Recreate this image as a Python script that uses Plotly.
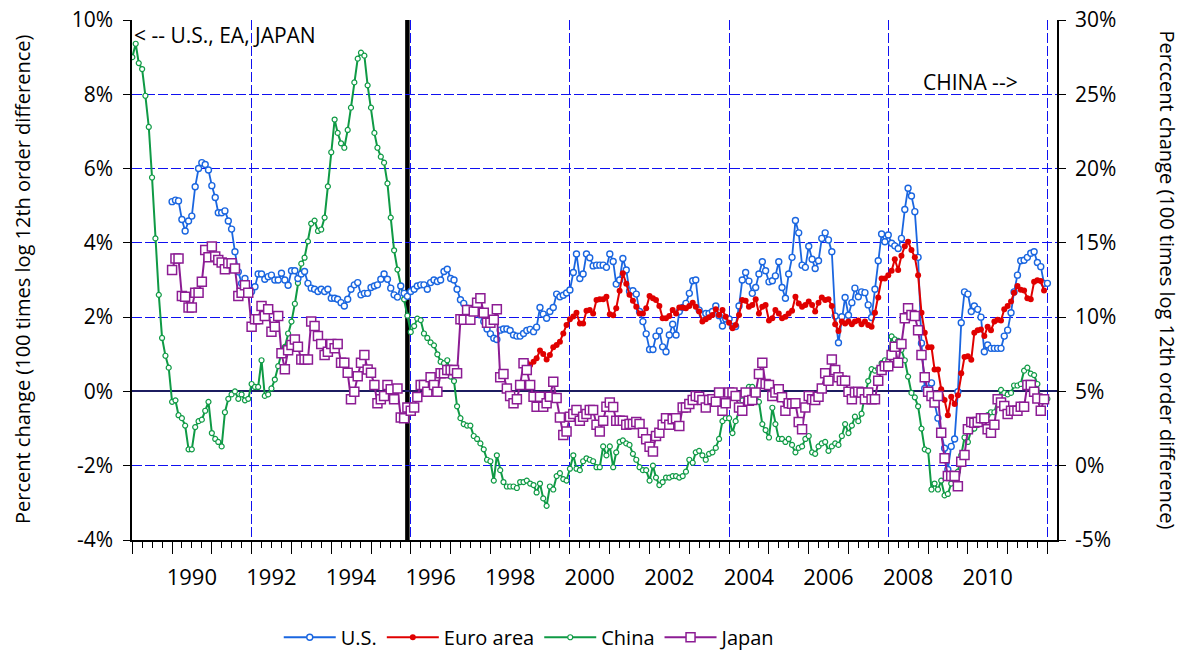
import pandas as pd
import plotly.graph_objects as go

# 100 x log 12th order difference of CPI, monthly
china_start = "1989-01-01"
china = [
    27.5, 28.4, 27.1, 26.7, 24.9, 22.8, 19.4, 15.3, 11.5, 8.6, 7.4, 6.6,      # 1989
    4.3, 4.4, 3.4, 3.2, 2.7, 1.1, 1.1, 2.6, 3.0, 3.1, 3.7, 4.3,               # 1990
    2.2, 1.8, 1.6, 1.3, 3.6, 4.5, 4.8, 5.0, 4.5, 4.8, 4.4, 4.5,               # 1991
    5.5, 5.3, 5.3, 7.1, 4.7, 4.8, 5.2, 5.8, 6.7, 7.6, 8.0, 8.9,               # 1992
    9.7, 10.9, 12.3, 13.6, 14.0, 15.1, 16.3, 16.5, 15.8, 15.9, 16.7, 18.8,    # 1993
    21.1, 23.3, 22.4, 21.7, 21.4, 22.6, 24.1, 25.8, 27.4, 27.8, 27.6, 25.6,   # 1994
    24.1, 22.4, 21.4, 20.8, 20.4, 19.0, 16.7, 14.5, 13.2, 12.1, 11.2, 10.1,   # 1995
    9.0, 9.4, 9.9, 9.8, 8.9, 8.6, 8.3, 8.1, 7.5, 7.0, 6.9, 7.1,               # 1996
    6.0, 5.7, 4.0, 3.2, 2.8, 2.7, 2.7, 2.0, 1.8, 1.5, 1.1, 0.4,               # 1997
    0.3, -1.0, 0.7, -0.3, -1.1, -1.4, -1.4, -1.4, -1.5, -1.1, -1.1, -1.0,     # 1998
    -1.2, -1.3, -1.8, -1.2, -2.2, -2.7, -1.4, -1.6, -0.7, -0.5, -0.9, -1.0,   # 1999
    -0.2, 0.7, -0.2, -0.3, 0.3, 0.5, 0.4, 0.3, -0.1, -0.1, 1.3, 0.7,          # 2000
    1.3, -0.1, 0.9, 1.6, 1.7, 1.5, 1.4, 0.8, 0.4, -0.1, -0.3, -0.3,           # 2001
    -1.0, 0.0, -0.8, -1.3, -1.1, -0.8, -0.8, -0.7, -0.7, -0.8, -0.7, -0.4,    # 2002
    0.4, 0.2, 0.9, 1.0, 0.7, 0.4, 0.8, 0.9, 1.2, 1.8, 3.0, 3.2,               # 2003
    3.2, 2.2, 3.0, 3.7, 4.4, 5.0, 5.3, 5.3, 4.8, 4.3, 2.8, 2.4,               # 2004
    1.9, 3.9, 2.8, 1.8, 1.8, 1.6, 1.8, 1.4, 0.9, 1.2, 1.3, 1.8,               # 2005
    2.0, 0.9, 0.8, 1.3, 1.5, 1.6, 1.0, 1.3, 1.5, 1.4, 2.0, 2.8,               # 2006
    2.2, 2.7, 3.3, 3.0, 3.5, 4.8, 5.7, 6.5, 6.4, 6.5, 6.9, 7.1,               # 2007
    7.1, 8.7, 8.5, 8.4, 7.8, 7.1, 6.0, 4.9, 4.6, 4.0, 2.5, 1.1,               # 2008
    1.0, -1.6, -1.2, -1.6, -1.0, -2.0, -1.9, -1.2, -0.9, -0.4, 0.7, 1.9,      # 2009
    1.6, 2.4, 2.5, 3.0, 3.2, 3.3, 3.4, 3.6, 3.6, 4.4, 5.1, 4.9,               # 2010
    4.8, 4.9, 5.4, 5.4, 5.5, 6.4, 6.6, 6.2, 6.1, 5.5, 4.4, 4.4,               # 2011
    4.5,                                                                      # 2012
]

us_start = "1990-01-01"
us = [
    5.11, 5.15, 5.13, 4.63, 4.32, 4.59, 4.72, 5.51, 6.00, 6.16, 6.11, 5.96,   # 1990
    5.54, 5.22, 4.81, 4.81, 4.86, 4.59, 4.37, 3.76, 3.22, 2.91, 3.04, 2.73,   # 1991
    2.69, 2.82, 3.16, 3.16, 3.02, 3.09, 3.13, 3.00, 3.00, 3.18, 3.00, 2.86,   # 1992
    3.25, 3.25, 3.04, 3.16, 3.23, 2.91, 2.78, 2.75, 2.69, 2.75, 2.69, 2.75,   # 1993
    2.51, 2.51, 2.48, 2.39, 2.30, 2.48, 2.75, 2.87, 2.93, 2.60, 2.64, 2.64,   # 1994
    2.80, 2.84, 2.87, 3.02, 3.16, 3.02, 2.78, 2.60, 2.54, 2.84, 2.64, 2.56,   # 1995
    2.69, 2.75, 2.84, 2.87, 2.87, 2.75, 2.93, 3.00, 2.96, 3.00, 3.23, 3.29,   # 1996
    3.04, 3.00, 2.75, 2.47, 2.37, 2.24, 2.15, 2.15, 2.19, 2.06, 1.88, 1.68,   # 1997
    1.55, 1.43, 1.40, 1.65, 1.68, 1.68, 1.64, 1.52, 1.49, 1.49, 1.56, 1.64,   # 1998
    1.67, 1.61, 1.73, 2.26, 2.08, 1.97, 2.15, 2.26, 2.62, 2.55, 2.59, 2.65,   # 1999
    2.73, 3.20, 3.70, 3.04, 3.16, 3.70, 3.60, 3.38, 3.40, 3.40, 3.40, 3.34,   # 2000
    3.70, 3.50, 2.89, 3.00, 3.58, 3.27, 2.70, 2.71, 2.62, 2.15, 1.88, 1.55,   # 2001
    1.13, 1.13, 1.49, 1.63, 1.20, 1.07, 1.52, 1.81, 1.52, 2.15, 2.26, 2.37,   # 2002
    2.64, 2.98, 3.00, 2.19, 2.06, 2.10, 2.10, 2.15, 2.30, 2.04, 1.76, 1.95,   # 2003
    1.95, 1.75, 1.75, 2.30, 3.00, 3.20, 2.97, 2.64, 2.80, 3.16, 3.49, 3.25,   # 2004
    2.95, 2.98, 3.11, 3.49, 2.80, 2.51, 3.16, 3.61, 4.60, 4.27, 3.40, 3.34,   # 2005
    3.91, 3.56, 3.31, 3.52, 4.12, 4.27, 4.08, 3.76, 2.03, 1.31, 2.01, 2.53,   # 2006
    2.05, 2.39, 2.78, 2.55, 2.68, 2.66, 2.33, 1.99, 2.75, 3.52, 4.24, 4.03,   # 2007
    4.21, 3.99, 3.92, 3.85, 4.12, 4.90, 5.47, 5.26, 4.84, 3.61, 1.30, 0.08,   # 2008
    0.23, 0.23, -0.32, -0.72, -1.13, -1.53, -2.10, -1.48, -1.28, -0.01, 1.85, 2.68,  # 2009
    2.62, 2.15, 2.30, 2.21, 2.00, 1.07, 1.25, 1.16, 1.16, 1.16, 1.16, 1.49,   # 2010
    1.65, 2.12, 2.68, 3.13, 3.52, 3.53, 3.61, 3.72, 3.76, 3.47, 3.36, 2.91,   # 2011
    2.91,                                                                     # 2012
]

euro_start = "1998-11-01"
euro = [
    0.72, 0.77,                                                               # 1998
    0.71, 0.80, 0.89, 1.10, 1.01, 0.86, 0.98, 1.19, 1.25, 1.34, 1.56, 1.79,   # 1999
    1.94, 2.02, 2.12, 1.83, 1.83, 2.17, 2.19, 2.10, 2.46, 2.48, 2.48, 2.55,   # 2000
    2.08, 2.05, 2.24, 2.71, 3.18, 2.90, 2.60, 2.44, 2.28, 2.10, 2.10, 2.24,   # 2001
    2.57, 2.51, 2.46, 2.30, 1.97, 1.97, 2.03, 2.19, 2.10, 2.26, 2.26, 2.24,   # 2002
    2.30, 2.39, 2.28, 2.15, 1.88, 1.94, 2.00, 2.06, 2.21, 2.06, 2.19, 2.01,   # 2003
    1.85, 1.70, 1.79, 2.06, 2.46, 2.44, 2.28, 2.33, 2.48, 2.10, 2.28, 2.33,   # 2004
    1.91, 1.97, 2.19, 2.10, 1.97, 2.01, 2.10, 2.17, 2.55, 2.37, 2.28, 2.33,   # 2005
    2.42, 2.33, 2.15, 2.39, 2.53, 2.46, 2.48, 2.30, 1.81, 1.63, 1.88, 1.83,   # 2006
    1.88, 1.81, 1.88, 1.91, 1.81, 1.88, 1.79, 1.74, 2.12, 2.53, 3.04, 3.04,   # 2007
    3.13, 3.25, 3.56, 3.27, 3.65, 3.91, 4.03, 3.81, 3.61, 3.13, 2.12, 1.58,   # 2008
    1.19, 1.19, 0.59, 0.59, 0.06, -0.23, -0.64, -0.14, -0.34, -0.10, 0.49, 0.93,  # 2009
    0.95, 0.85, 1.58, 1.65, 1.67, 1.49, 1.74, 1.65, 1.88, 1.93, 1.91, 2.21,   # 2010
    2.30, 2.42, 2.66, 2.84, 2.74, 2.72, 2.51, 2.48, 2.95, 2.99, 2.97, 2.72,   # 2011
]

japan_start = "1990-01-01"
japan = [
    3.27, 3.58, 3.58, 2.57, 2.55, 2.26, 2.26, 2.66, 2.66, 2.95, 3.81, 3.61,   # 1990
    3.90, 3.63, 3.54, 3.47, 3.29, 3.45, 3.45, 3.31, 2.57, 2.66, 2.86, 2.66,   # 1991
    1.74, 1.94, 1.94, 2.30, 2.03, 2.21, 1.61, 1.74, 2.03, 1.03, 0.60, 1.11,   # 1992
    1.25, 1.40, 1.20, 0.86, 0.86, 0.86, 1.88, 1.76, 1.49, 1.28, 0.98, 1.07,   # 1993
    1.28, 1.16, 1.28, 0.77, 0.77, 0.50, -0.21, -0.01, 0.41, 0.77, 0.98, 0.59,  # 1994
    0.50, 0.17, -0.32, -0.21, -0.12, 0.17, 0.06, -0.21, 0.08, -0.70, -0.72, -0.43,  # 1995
    -0.52, -0.43, -0.15, 0.17, 0.17, -0.01, 0.38, 0.17, -0.01, 0.49, 0.49, 0.58,  # 1996
    0.58, 0.58, 0.49, 1.94, 1.93, 2.19, 1.93, 2.15, 2.39, 2.51, 2.12, 1.85,   # 1997
    1.85, 1.93, 2.21, 0.38, 0.47, 0.08, -0.12, -0.32, -0.21, 0.17, 0.76, 0.58,  # 1998
    0.17, -0.14, -0.41, -0.14, -0.41, -0.32, -0.14, 0.26, -0.18, -0.70, -1.17, -1.08,  # 1999
    -0.68, -0.61, -0.50, -0.79, -0.68, -0.61, -0.50, -0.50, -0.90, -1.08, -0.79, -0.41,  # 2000
    -0.30, -0.42, -0.79, -0.79, -0.79, -0.90, -0.88, -0.88, -0.82, -0.88, -1.11, -1.29,  # 2001
    -1.49, -1.62, -1.20, -1.11, -0.90, -0.72, -0.90, -0.75, -0.72, -0.93, -0.43, -0.43,  # 2002
    -0.34, -0.23, -0.12, -0.14, -0.23, -0.43, -0.23, -0.21, -0.28, -0.03, -0.52, -0.32,  # 2003
    -0.03, -0.03, -0.12, -0.43, -0.52, -0.03, -0.25, -0.23, -0.03, 0.47, 0.77, 0.20,  # 2004
    0.17, -0.12, -0.03, 0.06, -0.16, -0.52, -0.32, -0.33, -0.32, -0.82, -1.02, -0.43,  # 2005
    -0.12, -0.21, -0.23, -0.14, 0.08, 0.49, 0.29, 0.86, 0.58, 0.38, 0.29, 0.29,  # 2006
    -0.01, -0.21, -0.03, -0.01, -0.03, -0.21, -0.03, -0.21, -0.21, 0.29, 0.58, 0.68,  # 2007
    0.68, 0.98, 1.20, 0.77, 1.28, 1.97, 2.24, 2.06, 2.03, 1.65, 0.98, 0.38,   # 2008
    -0.01, -0.12, -0.30, -0.12, -1.11, -1.80, -2.28, -2.28, -2.28, -2.55, -1.89, -1.71,  # 2009
    -1.02, -0.82, -0.84, -0.82, -0.72, -0.72, -1.02, -1.11, -0.90, -0.21, -0.30, -0.39,  # 2010
    -0.61, -0.52, -0.52, -0.52, -0.41, -0.41, 0.17, 0.17, -0.01, -0.19, -0.52, -0.21,  # 2011
]

left_ticks = [-4, -2, 0, 2, 4, 6, 8, 10]
left_grid = [-2, 2, 4, 6, 8]
right_ticks = [-5, 0, 5, 10, 15, 20, 25, 30]
year_labels = list(range(1990, 2011, 2))
break_date = "1995-12-01"
x_range = ["1988-12-29", "2012-03-29"]

FONT = "Open Sans"
GRID_BLUE = "#1010f0"


def months(start, values):
    return pd.date_range(start, periods=len(values), freq="MS")


fig = go.Figure()

fig.add_trace(go.Scatter(
    x=months(us_start, us), y=us, name="U.S.", yaxis="y2",
    mode="lines+markers",
    line=dict(color="#1a66e0", width=1.8),
    marker=dict(symbol="circle", size=6, color="white",
                line=dict(color="#1a66e0", width=1.4)),
))
fig.add_trace(go.Scatter(
    x=months(euro_start, euro), y=euro, name="Euro area", yaxis="y2",
    mode="lines+markers",
    line=dict(color="#e00000", width=2),
    marker=dict(symbol="circle", size=6, color="#e00000"),
))
fig.add_trace(go.Scatter(
    x=months(china_start, china), y=china, name="China", yaxis="y",
    mode="lines+markers",
    line=dict(color="#0f9a45", width=2),
    marker=dict(symbol="circle", size=5, color="white",
                line=dict(color="#0f9a45", width=1.2)),
))
fig.add_trace(go.Scatter(
    x=months(japan_start, japan), y=japan, name="Japan", yaxis="y2",
    mode="lines+markers",
    line=dict(color="#8c1c94", width=2),
    marker=dict(symbol="square", size=9, color="white",
                line=dict(color="#8c1c94", width=1.5)),
))

# empty helper traces so the label / grid overlay axes get drawn
for xa, ya in [("x2", "y"), ("x3", "y"), ("x", "y3")]:
    fig.add_trace(go.Scatter(x=x_range, y=[None, None], xaxis=xa, yaxis=ya,
                             mode="lines", showlegend=False, hoverinfo="skip"))

# thick marker line at end-1995
fig.add_shape(type="line", xref="x", yref="paper", x0=break_date, x1=break_date,
              y0=0, y1=1, line=dict(color="black", width=4.5), layer="between")

fig.add_annotation(text="< -- U.S., EA, JAPAN", xref="paper", yref="paper",
                   x=0.0, y=0.971, xanchor="left", yanchor="middle",
                   showarrow=False, font=dict(size=21))
fig.add_annotation(text="CHINA -->", xref="paper", yref="paper",
                   x=0.906, y=0.881, xanchor="center", yanchor="middle",
                   showarrow=False, font=dict(size=21))
fig.add_annotation(text="Percent change (100 times log 12th order difference)",
                   xref="paper", yref="paper", x=-0.1189, y=0.5, textangle=-90,
                   xanchor="center", yanchor="middle", showarrow=False,
                   font=dict(size=20))
fig.add_annotation(text="Perccent change (100 times log 12th order difference)",
                   xref="paper", yref="paper", x=1.1195, y=0.5, textangle=90,
                   xanchor="center", yanchor="middle", showarrow=False,
                   font=dict(size=20))

# the page body adds an 8px offset, so the figure is 8px smaller each way
fig.update_layout(
    width=1178, height=644,
    margin=dict(l=124, r=129, t=12, b=112, autoexpand=False),
    paper_bgcolor="white", plot_bgcolor="white",
    font=dict(family=FONT, size=20, color="black"),
    legend=dict(orientation="h", x=0.43, xanchor="center", y=-0.187,
                yanchor="middle", font=dict(size=20), itemwidth=52,
                bgcolor="rgba(0,0,0,0)"),
    # main date axis: yearly and quarterly ticks
    xaxis=dict(
        type="date", range=x_range, showgrid=False, zeroline=False,
        showline=True, linecolor="black", linewidth=1.5, automargin=False,
        ticks="outside", tick0="1989-01-01", dtick="M12", ticklen=12,
        tickwidth=1.3, tickcolor="black", showticklabels=False,
        minor=dict(ticks="outside", tick0="1989-01-01", dtick="M3",
                   ticklen=6, tickwidth=1, tickcolor="black", showgrid=False),
    ),
    # year labels centred in the year
    xaxis2=dict(
        type="date", overlaying="x", anchor="y", side="bottom", range=x_range,
        tickmode="array", tickvals=[f"{y}-07-01" for y in year_labels],
        ticktext=[str(y) for y in year_labels], ticks="outside", ticklen=18,
        tickcolor="rgba(0,0,0,0)", showline=False, showgrid=False,
        zeroline=False, tickfont=dict(size=22), automargin=False,
    ),
    # vertical dashed grid every four years
    xaxis3=dict(
        type="date", overlaying="x", anchor="y", range=x_range,
        tick0="1992-01-01", dtick="M48", showgrid=True, gridcolor=GRID_BLUE,
        gridwidth=1, griddash="10px,3px", ticks="", showticklabels=False,
        showline=False, zeroline=False, automargin=False,
    ),
    # right axis (China)
    yaxis=dict(
        side="right", range=[-5, 30], tickmode="array", tickvals=right_ticks,
        ticktext=[f"{v}%" for v in right_ticks], showgrid=False, zeroline=False,
        showline=True, linecolor="black", linewidth=1.5, ticks="outside",
        ticklen=7, tickwidth=1.3, tickcolor="black", tickfont=dict(size=21),
        ticklabelstandoff=5, ticklabeloverflow="allow", automargin=False,
    ),
    # left axis (U.S., EA, Japan)
    yaxis2=dict(
        overlaying="y", side="left", range=[-4, 10], tickmode="array",
        tickvals=left_ticks, ticktext=[f"{v}%" for v in left_ticks],
        showgrid=False, zeroline=True, zerolinecolor="#1c1c60", zerolinewidth=2,
        showline=True, linecolor="black", linewidth=1.5, ticks="outside",
        ticklen=7, tickwidth=1.3, tickcolor="black", tickfont=dict(size=21),
        ticklabelstandoff=6, ticklabeloverflow="allow", automargin=False,
    ),
    # horizontal dashed grid
    yaxis3=dict(
        overlaying="y", side="left", range=[-4, 10], tickmode="array",
        tickvals=left_grid, showgrid=True, gridcolor=GRID_BLUE, gridwidth=1,
        griddash="10px,3px", ticks="", showticklabels=False, showline=False,
        zeroline=False, automargin=False,
    ),
)

fig.write_html("out.html")
